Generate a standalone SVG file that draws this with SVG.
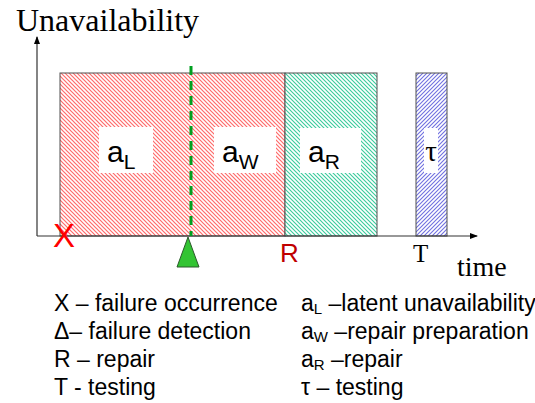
<svg xmlns="http://www.w3.org/2000/svg" width="535" height="403" viewBox="0 0 535 403">
<style>
.sans{font-family:"Liberation Sans",Arial,sans-serif;fill:#000}
.serif{font-family:"Liberation Serif","Times New Roman",serif;fill:#000}
.box{stroke:#505050;stroke-width:1}
.lbl{fill:#fff}
.leg{font-size:23px}
.sub{font-size:15px}
</style>
<defs>
<pattern id="hRed" patternUnits="userSpaceOnUse" width="4" height="4">
<rect width="4" height="4" fill="#fff"/>
<path d="M-1,-1 L5,5 M-1,3 L1,5 M3,-1 L5,1" stroke="#ff6a6a" stroke-width="1.2"/>
</pattern>
<pattern id="hTeal" patternUnits="userSpaceOnUse" width="4" height="4">
<rect width="4" height="4" fill="#fff"/>
<path d="M-1,-1 L5,5 M-1,3 L1,5 M3,-1 L5,1" stroke="#38cc9c" stroke-width="1.1"/>
</pattern>
<pattern id="hBlue" patternUnits="userSpaceOnUse" width="4" height="4">
<rect width="4" height="4" fill="#fff"/>
<path d="M-1,5 L5,-1 M-1,1 L1,-1 M3,5 L5,3" stroke="#7070e0" stroke-width="1.1"/>
</pattern>
<marker id="arr" markerWidth="8" markerHeight="8" refX="7" refY="4" orient="auto" markerUnits="userSpaceOnUse">
<path d="M0,1 L8,4 L0,7 Z" fill="#000"/>
</marker>
</defs>
<rect width="535" height="403" fill="#fff"/>

<g id="regions">
<rect id="aL-aW" class="box" x="60" y="73" width="225" height="163" fill="url(#hRed)"/>
<rect id="aR" class="box" x="285" y="73" width="92" height="163" fill="url(#hTeal)"/>
<rect id="tau" class="box" x="416" y="73" width="31" height="163" fill="url(#hBlue)"/>
<rect class="lbl" x="99" y="127" width="54" height="46"/>
<rect class="lbl" x="214" y="127" width="62" height="46"/>
<rect class="lbl" x="300" y="128" width="61" height="45"/>
<rect class="lbl" x="424" y="128" width="14" height="45"/>
<text class="sans" x="107" y="162" font-size="30">a<tspan font-size="21" dy="7">L</tspan></text>
<text class="sans" x="222" y="162" font-size="30">a<tspan font-size="21" dy="7">W</tspan></text>
<text class="sans" x="308" y="162" font-size="30">a<tspan font-size="21" dy="7">R</tspan></text>
<text class="serif" x="431" y="161" font-size="29" text-anchor="middle">τ</text>
</g>

<g id="connectors">
<line x1="37" y1="236" x2="37" y2="37" stroke="#333" stroke-width="1.2" marker-end="url(#arr)"/>
<line x1="37" y1="236" x2="477" y2="236" stroke="#333" stroke-width="1.2" marker-end="url(#arr)"/>
<line x1="191" y1="66" x2="191" y2="236" stroke="#00a020" stroke-width="3" stroke-dasharray="9,6"/>
</g>

<g id="axis-labels">
<text class="serif" x="16" y="31" font-size="32">Unavailability</text>
<text class="serif" x="457" y="276" font-size="28">time</text>
<text class="serif" x="413" y="262" font-size="25">T</text>
<text class="sans" x="280" y="262" font-size="26" style="fill:#c00000">R</text>
<text class="sans" x="53" y="247" font-size="33" style="fill:#ff0000">X</text>
</g>

<g id="detection">
<path d="M188,237 L199,267 L177,267 Z" fill="#33c433" stroke="#2a5a2a" stroke-width="1"/>
</g>

<g id="legend">
<text class="sans leg" x="54" y="311">X – failure occurrence</text>
<text class="sans leg" x="54" y="339">Δ– failure detection</text>
<text class="sans leg" x="54" y="367">R – repair</text>
<text class="sans leg" x="54" y="395">T - testing</text>
<text class="sans leg" x="301" y="311">a<tspan class="sub" dy="3">L</tspan><tspan dy="-3"> –latent unavailability</tspan></text>
<text class="sans leg" x="301" y="339">a<tspan class="sub" dy="3">W</tspan><tspan dy="-3"> –repair preparation</tspan></text>
<text class="sans leg" x="301" y="367">a<tspan class="sub" dy="3">R</tspan><tspan dy="-3"> –repair</tspan></text>
<text class="sans leg" x="301" y="395">τ – testing</text>
</g>
</svg>
